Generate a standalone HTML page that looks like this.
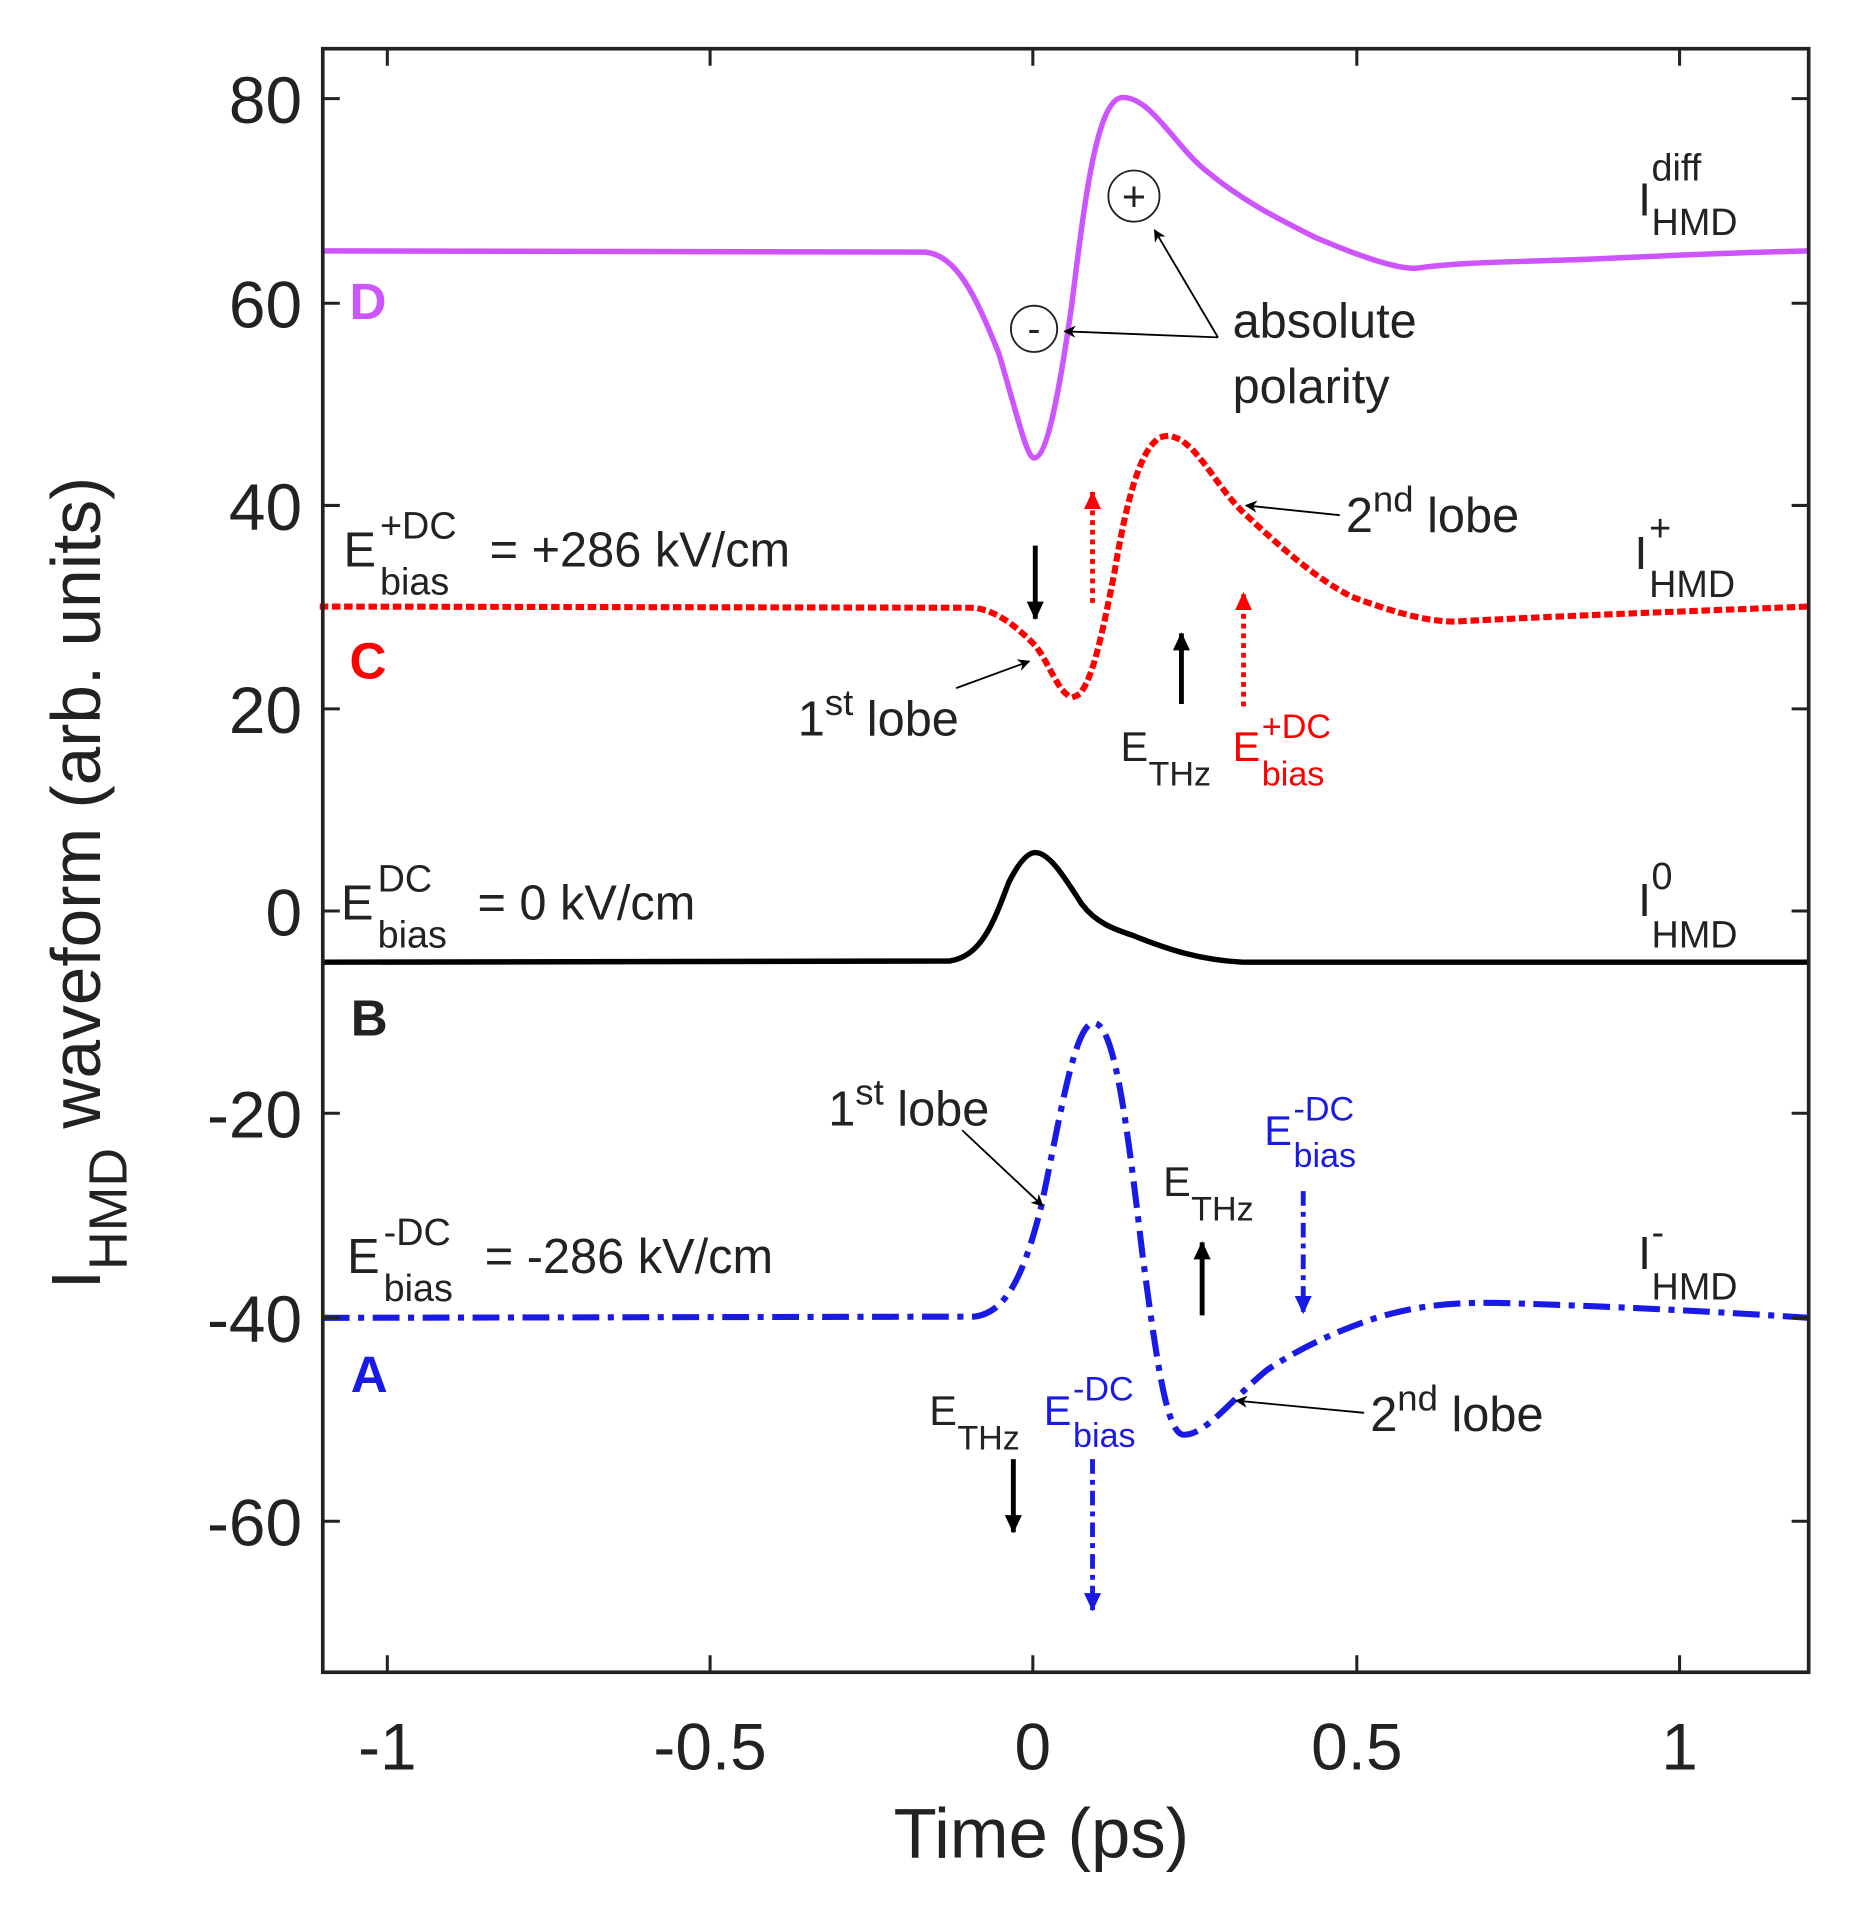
<!DOCTYPE html>
<html><head><meta charset="utf-8"><style>
html,body{margin:0;padding:0;background:#fff;}
svg{display:block;}
text{font-family:"Liberation Sans",Arial,sans-serif;fill:#222;}
</style></head><body>
<svg width="1854" height="1910" viewBox="0 0 1522.2 1568.2" xmlns="http://www.w3.org/2000/svg">
<defs>
<marker id="ak" markerWidth="10" markerHeight="10" refX="9" refY="5" orient="auto" markerUnits="userSpaceOnUse"><path d="M0,0 L10,5 L0,10 L3,5 Z" fill="#000"/></marker>
<marker id="ab" markerWidth="16" markerHeight="16" refX="14" refY="8" orient="auto" markerUnits="userSpaceOnUse"><path d="M0,1 L15,8 L0,15 Z" fill="#000"/></marker>
<marker id="ar" markerWidth="16" markerHeight="16" refX="14" refY="8" orient="auto" markerUnits="userSpaceOnUse"><path d="M0,1 L15,8 L0,15 Z" fill="#f00"/></marker>
<marker id="abl" markerWidth="16" markerHeight="16" refX="14" refY="8" orient="auto" markerUnits="userSpaceOnUse"><path d="M0,1 L15,8 L0,15 Z" fill="#1a1ae6"/></marker>
</defs>
<path fill="none" stroke="#cc55ff" stroke-width="4.5" d="M265,206 L760,207 C785,210 800,240 820,290 C835,340 843,376 849,376 C860,376 870,320 880,250 C890,170 900,80 922,80 C945,80 965,120 990,140 C1020,165 1050,180 1080,195 C1120,212 1150,222 1165,220 C1200,215 1250,215 1300,213 C1350,211 1400,208 1485,206"/>
<path fill="none" stroke="#f00" stroke-width="5" stroke-linecap="square" stroke-dasharray="2 8" d="M265,498 L800,499 C820,502 835,515 850,530 C862,545 870,572 881,572 C895,572 905,520 915,470 C925,410 938,358 958,358 C980,358 995,395 1020,420 C1050,448 1080,475 1110,490 C1150,505 1180,512 1200,510 C1260,507 1300,505 1485,498"/>
<path fill="none" stroke="#000" stroke-width="4.5" d="M265,790 L780,789 C805,785 815,760 828,725 C838,705 845,700 850,700 C862,700 875,722 888,742 C900,758 915,763 930,768 C960,780 985,788 1020,790 L1485,790"/>
<path fill="none" stroke="#1a1ae6" stroke-width="5" stroke-dasharray="22 7 5 7" d="M265,1082 L800,1081 C825,1078 840,1050 855,990 C870,920 882,840 898,840 C915,840 925,920 938,1030 C950,1120 958,1178 972,1178 C990,1178 1010,1150 1040,1125 C1070,1105 1100,1092 1130,1082 C1170,1070 1200,1069 1240,1070 C1300,1072 1380,1075 1485,1082"/>
<rect x="265" y="40" width="1220" height="1333" fill="none" stroke="#222" stroke-width="3"/>
<g stroke="#222" stroke-width="2.5">
<path d="M318,1373v-14M583,1373v-14M848,1373v-14M1114,1373v-14M1379,1373v-14M318,40v14M583,40v14M848,40v14M1114,40v14M1379,40v14"/>
<path d="M265,81h14M265,249h14M265,415h14M265,582h14M265,748h14M265,914h14M265,1082h14M265,1249h14M1485,81h-14M1485,249h-14M1485,415h-14M1485,582h-14M1485,748h-14M1485,914h-14M1485,1082h-14M1485,1249h-14"/>
</g>
<g font-size="54" text-anchor="end">
<text x="248" y="101">80</text><text x="248" y="269">60</text><text x="248" y="435">40</text><text x="248" y="602">20</text><text x="248" y="768">0</text><text x="248" y="934">-20</text><text x="248" y="1102">-40</text><text x="248" y="1269">-60</text>
</g>
<g font-size="54" text-anchor="middle">
<text x="318" y="1453">-1</text><text x="583" y="1453">-0.5</text><text x="848" y="1453">0</text><text x="1114" y="1453">0.5</text><text x="1379" y="1453">1</text>
<text x="855" y="1525" font-size="58">Time (ps)</text>
</g>
<text transform="translate(82,725) rotate(-90)" text-anchor="middle" font-size="57">I<tspan font-size="44" dy="22">HMD</tspan><tspan dy="-22"> waveform (arb. units)</tspan></text>
<g font-size="42" font-weight="bold">
<text x="287" y="262" style="fill:#cc55ff">D</text><text x="287" y="557" style="fill:#f00">C</text><text x="288" y="850">B</text><text x="288" y="1143" style="fill:#1a1ae6">A</text>
</g>
<circle cx="931" cy="161" r="21" fill="none" stroke="#222" stroke-width="1.5"/><text x="931" y="173" font-size="34" text-anchor="middle">+</text>
<circle cx="849" cy="270" r="19" fill="none" stroke="#222" stroke-width="1.5"/><text x="849" y="281" font-size="32" text-anchor="middle">-</text>
<g stroke="#000" stroke-width="1.5" fill="none">
<path d="M1000,277 L948,189" marker-end="url(#ak)"/>
<path d="M1000,277 L874,272" marker-end="url(#ak)"/>
<path d="M1100,423 L1023,415" marker-end="url(#ak)"/>
<path d="M785,565 L845,543" marker-end="url(#ak)"/>
<path d="M790,928 L856,990" marker-end="url(#ak)"/>
<path d="M1120,1160 L1015,1150" marker-end="url(#ak)"/>
</g>
<g font-size="40">
<text x="1012" y="277">absolute</text><text x="1012" y="331">polarity</text>
<text x="1105" y="437">2<tspan font-size="30" dy="-17">nd</tspan><tspan dy="17"> lobe</tspan></text>
<text x="655" y="604">1<tspan font-size="30" dy="-17">st</tspan><tspan dy="17"> lobe</tspan></text>
<text x="680" y="924">1<tspan font-size="30" dy="-17">st</tspan><tspan dy="17"> lobe</tspan></text>
<text x="1125" y="1175">2<tspan font-size="30" dy="-17">nd</tspan><tspan dy="17"> lobe</tspan></text>
<text x="282" y="465">E</text><text x="312" y="442" font-size="31">+DC</text><text x="312" y="488" font-size="31">bias</text><text x="402" y="465">= +286 kV/cm</text>
<text x="280" y="755">E</text><text x="310" y="732" font-size="31">DC</text><text x="310" y="778" font-size="31">bias</text><text x="392" y="755">= 0 kV/cm</text>
<text x="285" y="1045">E</text><text x="315" y="1022" font-size="31">-DC</text><text x="315" y="1068" font-size="31">bias</text><text x="398" y="1045">= -286 kV/cm</text>
</g>
<g font-size="38">
<text x="1345" y="177">I</text><text x="1356" y="148" font-size="31">diff</text><text x="1356" y="193" font-size="31">HMD</text>
<text x="1342" y="467">I</text><text x="1354" y="444" font-size="31">+</text><text x="1354" y="490" font-size="31">HMD</text>
<text x="1345" y="752">I</text><text x="1356" y="730" font-size="31">0</text><text x="1356" y="778" font-size="31">HMD</text>
<text x="1345" y="1042">I</text><text x="1356" y="1022" font-size="31">-</text><text x="1356" y="1067" font-size="31">HMD</text>
</g>
<g font-size="34">
<text x="920" y="625">E</text><text x="943" y="645" font-size="28">THz</text>
<text x="1012" y="625" style="fill:#f00">E</text><text x="1036" y="606" font-size="28" style="fill:#f00">+DC</text><text x="1036" y="645" font-size="28" style="fill:#f00">bias</text>
<text x="955" y="982">E</text><text x="978" y="1002" font-size="28">THz</text>
<text x="1038" y="940" style="fill:#1a1ae6">E</text><text x="1062" y="920" font-size="28" style="fill:#1a1ae6">-DC</text><text x="1062" y="958" font-size="28" style="fill:#1a1ae6">bias</text>
<text x="763" y="1170">E</text><text x="786" y="1190" font-size="28">THz</text>
<text x="857" y="1170" style="fill:#1a1ae6">E</text><text x="881" y="1150" font-size="28" style="fill:#1a1ae6">-DC</text><text x="881" y="1188" font-size="28" style="fill:#1a1ae6">bias</text>
</g>
<g fill="none">
<path d="M850,448 L850,508" stroke="#000" stroke-width="4" marker-end="url(#ab)"/>
<path d="M897,495 L897,404" stroke="#f00" stroke-width="4" stroke-dasharray="4 4" marker-end="url(#ar)"/>
<path d="M970,578 L970,520" stroke="#000" stroke-width="4" marker-end="url(#ab)"/>
<path d="M1021,580 L1021,487" stroke="#f00" stroke-width="4" stroke-dasharray="4 4" marker-end="url(#ar)"/>
<path d="M987,1080 L987,1020" stroke="#000" stroke-width="4" marker-end="url(#ab)"/>
<path d="M1070,978 L1070,1078" stroke="#1a1ae6" stroke-width="4" stroke-dasharray="12 5 4 5" marker-end="url(#abl)"/>
<path d="M832,1198 L832,1258" stroke="#000" stroke-width="4" marker-end="url(#ab)"/>
<path d="M897,1198 L897,1322" stroke="#1a1ae6" stroke-width="4" stroke-dasharray="12 5 4 5" marker-end="url(#abl)"/>
</g>
</svg>
</body></html>
